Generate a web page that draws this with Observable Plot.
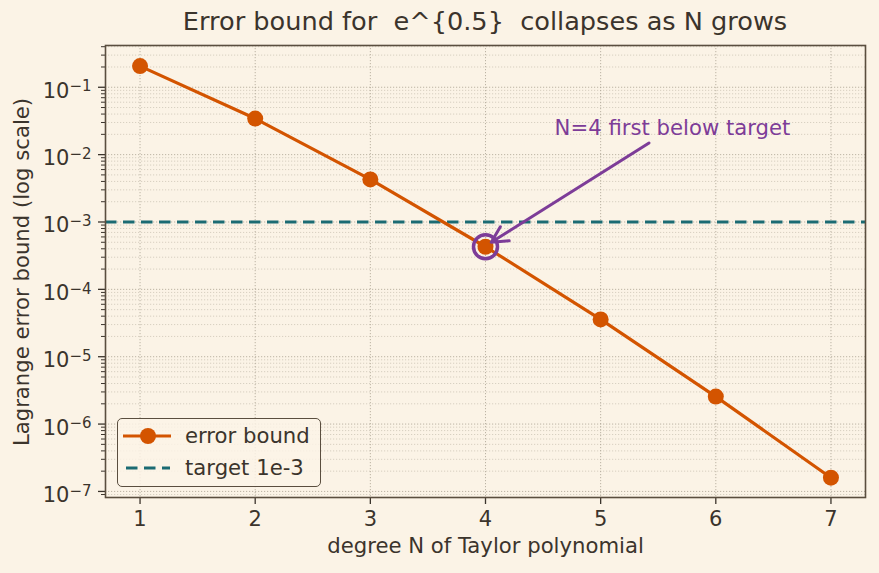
<!DOCTYPE html>
<html><head><meta charset="utf-8">
<script src="https://cdn.jsdelivr.net/npm/d3@7"></script>
<script src="https://cdn.jsdelivr.net/npm/@observablehq/plot@0.6"></script>
<style>
body{margin:0;background:#fbf3e6;}
#wrap{position:relative;width:879px;height:573px;font-family:"DejaVu Sans",sans-serif;color:#3b342c;overflow:hidden;}
#title{position:absolute;left:105px;width:760px;top:7px;text-align:center;font-size:25.6px;white-space:pre;line-height:29px;}
#ylabel{position:absolute;left:22px;top:272px;transform:translate(-50%,-50%) rotate(-90deg);white-space:nowrap;font-size:21.2px;line-height:24px;}
#legend{position:absolute;left:117px;top:418px;width:204px;height:69px;border:1.5px solid #5a4e3f;border-radius:5px;background:rgba(251,243,230,0.85);box-sizing:border-box;font-size:21.2px;}
.row{position:absolute;left:0;height:30px;width:100%;}
.row svg{position:absolute;left:4px;top:0;}
.row span{position:absolute;left:67px;top:2px;white-space:nowrap;line-height:25px;}
</style></head><body><div id="wrap"><div id="chart"></div>
<div id="title"></div>
<div id="ylabel"></div>
<div id="legend">
 <div class="row" style="top:2px"><svg width="52" height="30"><line x1="1" x2="49" y1="15" y2="15" stroke="#d35400" stroke-width="3.2"/><circle cx="26" cy="15" r="8" fill="#d35400"/></svg><span id="l1"></span></div>
 <div class="row" style="top:34px"><svg width="52" height="30"><line x1="4" x2="48" y1="15" y2="15" stroke="#1b6b73" stroke-width="3.2" stroke-dasharray="11.5,6.5"/></svg><span id="l2"></span></div>
</div></div>
<script>
const degrees = [1, 2, 3, 4, 5, 6, 7];
const errorBound = [0.206, 0.0343, 0.00429, 0.000429, 3.58e-5, 2.56e-6, 1.6e-7];
const targetValue = 1e-3;
const seriesLabels = ["error bound", "target 1e-3"];
const titleText = "Error bound for  e^{0.5}  collapses as N grows";
const xLabel = "degree N of Taylor polynomial";
const yLabel = "Lagrange error bound (log scale)";
const annotationText = ["N=4 first below target"];
const annotationTextPos = [{x: 4.6, y: 0.02}];
const annotationArrow = [{x1: 5.42, y1: 0.0149, x2: 4.05, y2: 0.00050}];
const highlightN = 4;
const yMajorTicks = [1e-7, 1e-6, 1e-5, 1e-4, 1e-3, 1e-2, 1e-1];
const yMajorLabels = ["10^-7", "10^-6", "10^-5", "10^-4", "10^-3", "10^-2", "10^-1"];
const minorMultipliers = [2, 3, 4, 5, 6, 7, 8, 9];

const data = degrees.map((n, i) => ({n, e: errorBound[i]}));
const yDomain = [Math.pow(10, -7.09), Math.pow(10, -0.38)];
const yMinor = [];
for (let k = -8; k <= 0; k++) for (const m of minorMultipliers) {
  const v = m * Math.pow(10, k);
  if (v >= yDomain[0] && v <= yDomain[1]) yMinor.push(v);
}
const highlight = data.filter(d => d.n === highlightN);
document.getElementById("title").textContent = titleText;
document.getElementById("ylabel").textContent = yLabel;
document.getElementById("l1").textContent = seriesLabels[0];
document.getElementById("l2").textContent = seriesLabels[1];

const ink = "#3b342c";
const gridC = "#a39a8a";
const labelOf = d => {
  const i = yMajorTicks.findIndex(t => Math.abs(Math.log10(t) - Math.log10(d)) < 1e-6);
  return i >= 0 ? yMajorLabels[i] : "";
};
const chart = Plot.plot({
  width: 879, height: 573,
  marginLeft: 105, marginRight: 14, marginTop: 45, marginBottom: 76,
  style: {background: "#fbf3e6", color: ink, fontFamily: "DejaVu Sans, sans-serif"},
  x: {domain: [0.7, 7.3]},
  y: {type: "log", domain: yDomain},
  marks: [
    Plot.gridY(yMinor, {stroke: gridC, strokeOpacity: 0.5, strokeDasharray: "1.2,1.8", strokeWidth: 0.8}),
    Plot.gridY(yMajorTicks, {stroke: gridC, strokeOpacity: 0.8, strokeDasharray: "1.2,1.8", strokeWidth: 0.9}),
    Plot.gridX(degrees, {stroke: gridC, strokeOpacity: 0.8, strokeDasharray: "1.2,1.8", strokeWidth: 0.9}),
    Plot.axisX({ticks: degrees, tickFormat: d => String(d), tickSize: 7, tickPadding: 7, fontSize: 21, label: null, stroke: ink, strokeWidth: 1.3}),
    Plot.axisY({ticks: yMajorTicks, tickFormat: labelOf, tickSize: 7, tickPadding: 7, fontSize: 21, label: null, stroke: ink, strokeWidth: 1.3}),
    Plot.axisY({ticks: yMinor, tickFormat: null, tickSize: 4, label: null, stroke: ink, strokeWidth: 1}),
    Plot.text([xLabel], {frameAnchor: "bottom", dy: 55, fontSize: 21.2, fill: ink}),
    Plot.ruleY([targetValue], {stroke: "#1b6b73", strokeWidth: 3.2, strokeDasharray: "11.5,6.5"}),
    Plot.line(data, {x: "n", y: "e", stroke: "#d35400", strokeWidth: 3.2}),
    Plot.dot(data, {x: "n", y: "e", r: 8, fill: "#d35400"}),
    Plot.dot(highlight, {x: "n", y: "e", r: 12, stroke: "#7d3c98", strokeWidth: 3.5, fill: "none"}),
    Plot.arrow(annotationArrow, {x1: "x1", y1: "y1", x2: "x2", y2: "y2", stroke: "#7d3c98", strokeWidth: 3, headLength: 9, headAngle: 55}),
    Plot.text(annotationTextPos, {x: "x", y: "y", text: () => annotationText[0], textAnchor: "start", dy: -6, fontSize: 21.2, fill: "#7d3c98"}),
    Plot.frame({stroke: "#5a4e3f", strokeWidth: 1.6})
  ]
});
const ns = "http://www.w3.org/2000/svg";
chart.querySelectorAll('g[aria-label="y-axis tick label"] text').forEach(t => {
  const m = t.textContent.match(/^10\^(-?\d+)$/);
  if (!m) return;
  t.textContent = "";
  const a = document.createElementNS(ns, "tspan");
  a.textContent = "10"; a.setAttribute("dy", "0.18em");
  const b = document.createElementNS(ns, "tspan");
  b.textContent = m[1].replace("-", "−");
  b.setAttribute("dy", "-0.42em"); b.setAttribute("font-size", "15px");
  t.append(a, b);
});
document.getElementById("chart").appendChild(chart);
</script></body></html>
